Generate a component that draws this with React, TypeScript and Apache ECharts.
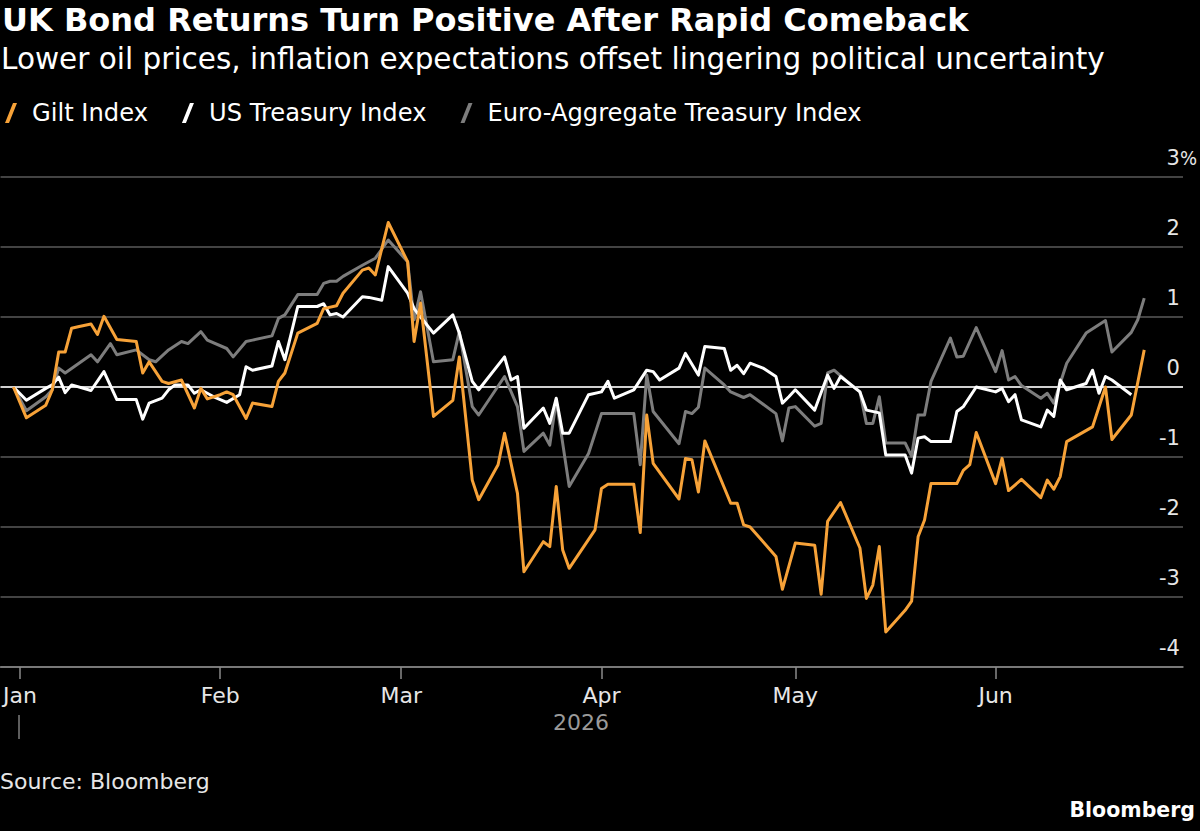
import React, { useEffect, useRef } from 'react';
import * as echarts from 'echarts';

const TITLE = 'UK Bond Returns Turn Positive After Rapid Comeback';
const SUBTITLE = 'Lower oil prices, inflation expectations offset lingering political uncertainty';
const SERIES_NAMES = ['Gilt Index', 'US Treasury Index', 'Euro-Aggregate Treasury Index'];
const SERIES_COLORS = ['#f7a238', '#ffffff', '#7d7d7d'];
const MONTHS = ['Jan', 'Feb', 'Mar', 'Apr', 'May', 'Jun', 'Jul', 'Aug', 'Sep', 'Oct', 'Nov', 'Dec'];
const Y_TICKS = [-4, -3, -2, -1, 0, 1, 2, 3];
const YEAR_LABEL = '2026';
const SOURCE = 'Source: Bloomberg';
const BRAND = 'Bloomberg';

const giltData: [string, number][] = [
  ['2025-12-31', 0], ['2026-01-02', -0.44], ['2026-01-05', -0.26], ['2026-01-06', -0.04],
  ['2026-01-07', 0.5], ['2026-01-08', 0.5], ['2026-01-09', 0.84], ['2026-01-10', 0.86],
  ['2026-01-12', 0.9], ['2026-01-13', 0.75], ['2026-01-14', 1.01], ['2026-01-16', 0.68],
  ['2026-01-19', 0.65], ['2026-01-20', 0.2], ['2026-01-21', 0.36], ['2026-01-23', 0.08],
  ['2026-01-24', 0.05], ['2026-01-26', 0.1], ['2026-01-28', -0.3], ['2026-01-29', -0.02],
  ['2026-01-30', -0.17], ['2026-02-01', -0.11], ['2026-02-02', -0.07], ['2026-02-03', -0.11],
  ['2026-02-05', -0.45], ['2026-02-06', -0.23], ['2026-02-09', -0.28], ['2026-02-10', 0.08],
  ['2026-02-11', 0.2], ['2026-02-13', 0.77], ['2026-02-16', 0.91], ['2026-02-17', 1.12],
  ['2026-02-19', 1.16], ['2026-02-20', 1.34], ['2026-02-23', 1.67], ['2026-02-24', 1.7],
  ['2026-02-25', 1.6], ['2026-02-27', 2.35], ['2026-03-02', 1.79], ['2026-03-03', 0.65],
  ['2026-03-04', 1.2], ['2026-03-06', -0.42], ['2026-03-09', -0.19], ['2026-03-10', 0.43],
  ['2026-03-12', -1.33], ['2026-03-13', -1.61], ['2026-03-16', -1.11], ['2026-03-17', -0.66],
  ['2026-03-19', -1.52], ['2026-03-20', -2.64], ['2026-03-23', -2.21], ['2026-03-24', -2.28],
  ['2026-03-25', -1.42], ['2026-03-26', -2.33], ['2026-03-27', -2.59], ['2026-03-31', -2.04],
  ['2026-04-01', -1.45], ['2026-04-02', -1.39], ['2026-04-06', -1.39], ['2026-04-07', -2.08],
  ['2026-04-08', -0.4], ['2026-04-09', -1.09], ['2026-04-13', -1.6], ['2026-04-14', -1.02],
  ['2026-04-15', -1.04], ['2026-04-16', -1.5], ['2026-04-17', -0.77], ['2026-04-21', -1.66],
  ['2026-04-22', -1.66], ['2026-04-23', -1.97], ['2026-04-24', -2.0], ['2026-04-28', -2.42],
  ['2026-04-29', -2.89], ['2026-05-01', -2.23], ['2026-05-04', -2.26], ['2026-05-05', -2.96],
  ['2026-05-06', -1.92], ['2026-05-08', -1.65], ['2026-05-11', -2.3], ['2026-05-12', -3.02],
  ['2026-05-13', -2.83], ['2026-05-14', -2.28], ['2026-05-15', -3.5], ['2026-05-18', -3.19],
  ['2026-05-19', -3.06], ['2026-05-20', -2.14], ['2026-05-21', -1.9], ['2026-05-22', -1.38],
  ['2026-05-26', -1.38], ['2026-05-27', -1.19], ['2026-05-28', -1.11], ['2026-05-29', -0.65],
  ['2026-06-01', -1.38], ['2026-06-02', -1.02], ['2026-06-03', -1.48], ['2026-06-05', -1.32],
  ['2026-06-08', -1.58], ['2026-06-09', -1.33], ['2026-06-10', -1.46], ['2026-06-11', -1.28],
  ['2026-06-12', -0.78], ['2026-06-16', -0.57], ['2026-06-18', 0.0], ['2026-06-19', -0.75],
  ['2026-06-22', -0.4], ['2026-06-24', 0.53],
];

const usData: [string, number][] = [
  ['2025-12-31', 0], ['2026-01-02', -0.19], ['2026-01-05', -0.02], ['2026-01-06', 0.03],
  ['2026-01-07', 0.14], ['2026-01-08', -0.08], ['2026-01-09', 0.03], ['2026-01-12', -0.05],
  ['2026-01-14', 0.22], ['2026-01-16', -0.18], ['2026-01-19', -0.18], ['2026-01-20', -0.46],
  ['2026-01-21', -0.23], ['2026-01-23', -0.16], ['2026-01-24', -0.04], ['2026-01-25', 0.03],
  ['2026-01-27', 0.03], ['2026-01-28', -0.09], ['2026-01-29', -0.04], ['2026-01-31', -0.14],
  ['2026-02-02', -0.22], ['2026-02-04', -0.11], ['2026-02-05', 0.29], ['2026-02-06', 0.24],
  ['2026-02-09', 0.3], ['2026-02-10', 0.65], ['2026-02-11', 0.39], ['2026-02-13', 1.15],
  ['2026-02-16', 1.15], ['2026-02-17', 1.19], ['2026-02-18', 1.03], ['2026-02-19', 1.05],
  ['2026-02-20', 1.0], ['2026-02-23', 1.29], ['2026-02-24', 1.28], ['2026-02-26', 1.24],
  ['2026-02-27', 1.72], ['2026-03-02', 1.34], ['2026-03-03', 1.12], ['2026-03-04', 1.0],
  ['2026-03-06', 0.77], ['2026-03-09', 1.03], ['2026-03-10', 0.77], ['2026-03-12', 0.08],
  ['2026-03-13', -0.04], ['2026-03-17', 0.43], ['2026-03-18', 0.1], ['2026-03-19', 0.15],
  ['2026-03-20', -0.59], ['2026-03-23', -0.3], ['2026-03-24', -0.52], ['2026-03-25', -0.16],
  ['2026-03-26', -0.66], ['2026-03-27', -0.66], ['2026-03-30', -0.11], ['2026-04-01', -0.07],
  ['2026-04-02', 0.08], ['2026-04-03', -0.16], ['2026-04-06', -0.04], ['2026-04-08', 0.24],
  ['2026-04-09', 0.22], ['2026-04-10', 0.1], ['2026-04-13', 0.27], ['2026-04-14', 0.48],
  ['2026-04-16', 0.17], ['2026-04-17', 0.58], ['2026-04-20', 0.55], ['2026-04-21', 0.24],
  ['2026-04-22', 0.31], ['2026-04-23', 0.19], ['2026-04-24', 0.34], ['2026-04-26', 0.27],
  ['2026-04-28', 0.15], ['2026-04-29', -0.23], ['2026-04-30', -0.14], ['2026-05-01', -0.04],
  ['2026-05-04', -0.33], ['2026-05-06', 0.17], ['2026-05-07', -0.02], ['2026-05-08', 0.15],
  ['2026-05-11', -0.07], ['2026-05-12', -0.33], ['2026-05-14', -0.37], ['2026-05-15', -0.97],
  ['2026-05-18', -0.97], ['2026-05-19', -1.23], ['2026-05-20', -0.73], ['2026-05-21', -0.71],
  ['2026-05-22', -0.78], ['2026-05-25', -0.78], ['2026-05-26', -0.35], ['2026-05-27', -0.28],
  ['2026-05-29', 0.0], ['2026-06-01', -0.07], ['2026-06-02', -0.02], ['2026-06-03', -0.21],
  ['2026-06-04', -0.11], ['2026-06-05', -0.47], ['2026-06-08', -0.57], ['2026-06-09', -0.33],
  ['2026-06-10', -0.42], ['2026-06-11', 0.1], ['2026-06-12', -0.04], ['2026-06-15', 0.05],
  ['2026-06-16', 0.24], ['2026-06-17', -0.09], ['2026-06-18', 0.15], ['2026-06-19', 0.1],
  ['2026-06-22', -0.11],
];

const euroData: [string, number][] = [
  ['2025-12-31', 0], ['2026-01-02', -0.34], ['2026-01-05', -0.14], ['2026-01-06', -0.04],
  ['2026-01-07', 0.27], ['2026-01-08', 0.2], ['2026-01-12', 0.46], ['2026-01-13', 0.36],
  ['2026-01-15', 0.62], ['2026-01-16', 0.46], ['2026-01-19', 0.53], ['2026-01-21', 0.39],
  ['2026-01-22', 0.36], ['2026-01-24', 0.53], ['2026-01-26', 0.65], ['2026-01-27', 0.62],
  ['2026-01-29', 0.79], ['2026-01-30', 0.67], ['2026-02-02', 0.55], ['2026-02-03', 0.43],
  ['2026-02-05', 0.65], ['2026-02-06', 0.67], ['2026-02-09', 0.73], ['2026-02-10', 0.98],
  ['2026-02-11', 1.03], ['2026-02-13', 1.32], ['2026-02-16', 1.32], ['2026-02-17', 1.48],
  ['2026-02-18', 1.51], ['2026-02-19', 1.51], ['2026-02-20', 1.58], ['2026-02-23', 1.74],
  ['2026-02-25', 1.84], ['2026-02-27', 2.1], ['2026-03-02', 1.79], ['2026-03-03', 0.96],
  ['2026-03-04', 1.36], ['2026-03-06', 0.36], ['2026-03-09', 0.39], ['2026-03-10', 0.79],
  ['2026-03-12', -0.28], ['2026-03-13', -0.4], ['2026-03-17', 0.15], ['2026-03-19', -0.28],
  ['2026-03-20', -0.92], ['2026-03-23', -0.66], ['2026-03-24', -0.83], ['2026-03-25', -0.19],
  ['2026-03-27', -1.42], ['2026-03-30', -0.95], ['2026-04-01', -0.38], ['2026-04-06', -0.38],
  ['2026-04-07', -1.11], ['2026-04-08', 0.17], ['2026-04-09', -0.35], ['2026-04-13', -0.81],
  ['2026-04-14', -0.35], ['2026-04-15', -0.38], ['2026-04-16', -0.29], ['2026-04-17', 0.27],
  ['2026-04-20', 0.03], ['2026-04-21', -0.07], ['2026-04-23', -0.15], ['2026-04-24', -0.11],
  ['2026-04-28', -0.38], ['2026-04-29', -0.77], ['2026-04-30', -0.3], ['2026-05-01', -0.28],
  ['2026-05-04', -0.56], ['2026-05-05', -0.52], ['2026-05-06', 0.2], ['2026-05-07', 0.24],
  ['2026-05-09', 0.08], ['2026-05-11', -0.07], ['2026-05-12', -0.52], ['2026-05-13', -0.52],
  ['2026-05-14', -0.14], ['2026-05-15', -0.8], ['2026-05-18', -0.8], ['2026-05-19', -0.99],
  ['2026-05-20', -0.4], ['2026-05-21', -0.4], ['2026-05-22', 0.08], ['2026-05-25', 0.7],
  ['2026-05-26', 0.43], ['2026-05-27', 0.44], ['2026-05-29', 0.85], ['2026-06-01', 0.22],
  ['2026-06-02', 0.52], ['2026-06-03', 0.1], ['2026-06-04', 0.15], ['2026-06-05', 0.02],
  ['2026-06-08', -0.16], ['2026-06-09', -0.09], ['2026-06-10', -0.23], ['2026-06-12', 0.34],
  ['2026-06-15', 0.77], ['2026-06-18', 0.95], ['2026-06-19', 0.5], ['2026-06-22', 0.78],
  ['2026-06-23', 0.96], ['2026-06-24', 1.27],
];

const X_MIN = '2025-12-29';
const X_MAX = '2026-06-30';

const FONT = '"DejaVu Sans", sans-serif';
const FONT_COND = '"DejaVu Sans Condensed", "DejaVu Sans", sans-serif';

export default function App() {
  const ref = useRef<HTMLDivElement>(null);
  useEffect(() => {
    if (!ref.current) return;
    const chart = echarts.init(ref.current, undefined, { renderer: 'svg' });
    const seriesData = [giltData, usData, euroData];
    const option: any = {
      animation: false,
      backgroundColor: '#000000',
      textStyle: { fontFamily: FONT },
      title: [
        {
          text: TITLE, left: 2, top: 4, padding: 0,
          textStyle: { color: '#ffffff', fontSize: 32, fontWeight: 'bold', fontFamily: FONT },
        },
        {
          text: SUBTITLE, left: 1, top: 44, padding: 0,
          textStyle: { color: '#ffffff', fontSize: 29.5, fontWeight: 'normal', fontFamily: FONT },
        },
      ],
      legend: {
        left: 5, top: 101, padding: 0,
        itemWidth: 14, itemHeight: 20, itemGap: 34,
        icon: 'path://M0,20L4,20L12,0L8,0Z',
        textStyle: { color: '#ffffff', fontSize: 24.2, fontFamily: FONT, padding: [0, 0, 0, 9] },
        data: SERIES_NAMES,
      },
      grid: { left: 0, right: 16, top: 177, bottom: 164 },
      xAxis: {
        type: 'time', min: X_MIN, max: X_MAX,
        minInterval: 28 * 86400000, maxInterval: 31 * 86400000,
        axisLine: { show: true, onZero: false, lineStyle: { color: '#8a8a8a', width: 1.5 } },
        axisTick: { show: true, length: 12, lineStyle: { color: '#8a8a8a', width: 1.5 } },
        axisLabel: {
          color: '#e6e6e6', fontSize: 22, fontFamily: FONT, margin: 17,
          formatter: (v: number) => MONTHS[new Date(v).getMonth()],
        },
        splitLine: { show: false },
        minorTick: { show: false },
      },
      yAxis: {
        type: 'value', position: 'right', min: Y_TICKS[0], max: Y_TICKS[Y_TICKS.length - 1], interval: 1,
        axisLine: { show: false }, axisTick: { show: false },
        splitLine: { show: true, lineStyle: { color: '#5a5a5a', width: 1.5 } },
        axisLabel: {
          inside: false, align: 'right', verticalAlign: 'bottom', margin: 14,
          color: '#e6e6e6', fontSize: 21, fontFamily: FONT, padding: [0, 0, 9, 0],
          formatter: (v: number) => `{n|${v}}{${v === 3 ? 'p' : 'h'}|%}`,
          rich: {
            n: { color: '#e6e6e6', fontSize: 21, fontFamily: FONT },
            p: { color: '#e6e6e6', fontSize: 20, fontFamily: FONT_COND },
            h: { color: 'rgba(0,0,0,0)', fontSize: 20, fontFamily: FONT_COND },
          },
        },
      },
      series: SERIES_NAMES.map((name, i) => ({
        name, type: 'line', data: seriesData[i], showSymbol: false, symbol: 'none',
        z: 10 - i,
        lineStyle: { color: SERIES_COLORS[i], width: 3, join: 'round' },
        itemStyle: { color: SERIES_COLORS[i] },
        ...(i === 2
          ? {
              markLine: {
                silent: true, symbol: 'none', label: { show: false },
                lineStyle: { color: '#ffffff', width: 1.5, type: 'solid' },
                data: [{ yAxis: 0 }],
              },
            }
          : {}),
      })),
      graphic: [
        { type: 'text', left: 553, top: 711, style: { text: YEAR_LABEL, fill: '#9a9a9a', fontSize: 22, fontFamily: FONT } },
        { type: 'line', shape: { x1: 19, y1: 715, x2: 19, y2: 739 }, style: { stroke: '#bbbbbb', lineWidth: 1 } },
        { type: 'text', left: 0, top: 770, style: { text: SOURCE, fill: '#e6e6e6', fontSize: 22, fontFamily: FONT } },
        { type: 'text', right: 5, top: 799, style: { text: BRAND, fill: '#ffffff', fontSize: 20.5, fontWeight: 'bold', fontFamily: FONT } },
      ],
    };
    chart.setOption(option);
    return () => chart.dispose();
  }, []);
  return <div ref={ref} style={{ position: 'fixed', left: 0, top: 0, width: 1200, height: 831 }} />;
}
